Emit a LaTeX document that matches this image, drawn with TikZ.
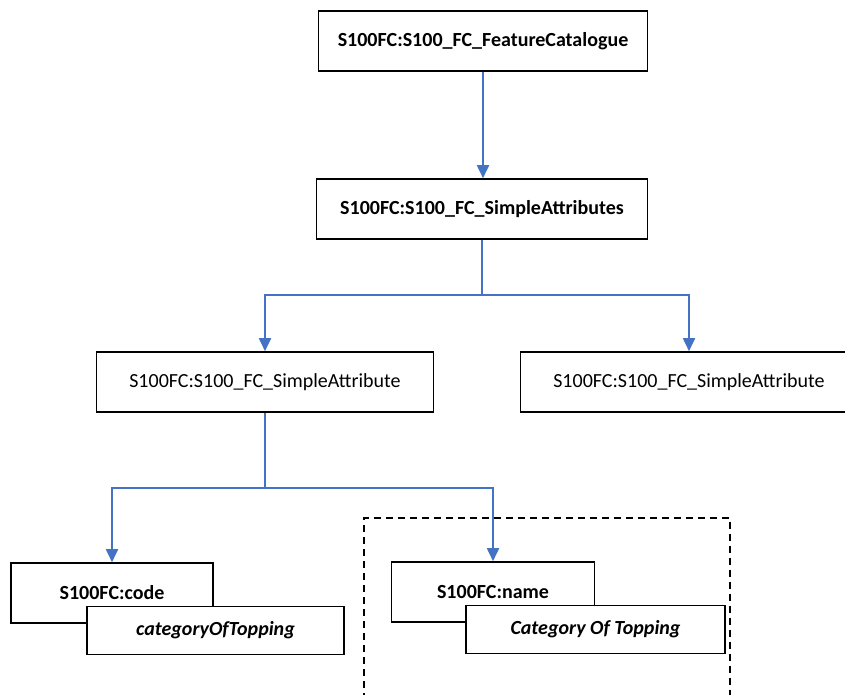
\documentclass[tikz,border=0pt]{standalone}
\usepackage{fontspec}
\setmainfont{Carlito}
\usetikzlibrary{arrows.meta,positioning}
\definecolor{linkblue}{RGB}{68,114,196}

\begin{document}
\begin{tikzpicture}[
    x=1pt,
    y=-1pt,
    >={Triangle[width=12pt,length=13pt]},
    classbox/.style={draw,line width=1.6pt,fill=white,minimum height=60pt,inner sep=0pt,
      font=\fontsize{20}{24}\selectfont\bfseries},
    attrbox/.style={classbox,font=\fontsize{20}{24}\selectfont},
    valuebox/.style={draw,line width=1.6pt,fill=white,minimum height=48pt,inner sep=0pt,
      font=\fontsize{20}{24}\selectfont\bfseries\itshape},
    link/.style={linkblue,line width=1.8pt}
]
  \path[use as bounding box,clip] (0,0) rectangle (845,694);

  \node[classbox,minimum width=329pt] (catalogue) at (483,41) {S100FC:S100\_FC\_FeatureCatalogue};
  \node[classbox,minimum width=331pt] (attributes) at (482,209) {S100FC:S100\_FC\_SimpleAttributes};
  \node[attrbox,minimum width=337pt] (attrleft) at (265,382) {S100FC:S100\_FC\_SimpleAttribute};
  \node[attrbox,minimum width=337pt] (attrright) at (689,382) {S100FC:S100\_FC\_SimpleAttribute};

  \node[classbox,minimum width=202pt] (code) at (112,593) {S100FC:code};
  \node[valuebox,minimum width=257pt] (codevalue) at (215.5,630.5) {categoryOfTopping};
  \node[classbox,minimum width=203pt] (name) at (493,592) {S100FC:name};
  \node[valuebox,minimum width=259pt] (namevalue) at (595.5,629.5) {Category Of Topping};

  \coordinate (split) at (482,295);
  \coordinate (leafsplit) at (265,488);

  \draw[link,->] (catalogue.south) -- (catalogue.south |- attributes.north);
  \draw[link] (attributes.south) -- (attributes.south |- split);
  \draw[link,->] (attributes.south |- split) -| (attrleft.north);
  \draw[link,->] (attributes.south |- split) -| (attrright.north);
  \draw[link] (attrleft.south) -- (attrleft.south |- leafsplit);
  \draw[link,->] (attrleft.south |- leafsplit) -| (code.north);
  \draw[link,->] (attrleft.south |- leafsplit) -| (name.north);

  \draw[dashed,line width=1.6pt,dash pattern=on 7pt off 5pt] (364,700) -- (364,518) -- (730,518) -- (730,700);
\end{tikzpicture}
\end{document}
